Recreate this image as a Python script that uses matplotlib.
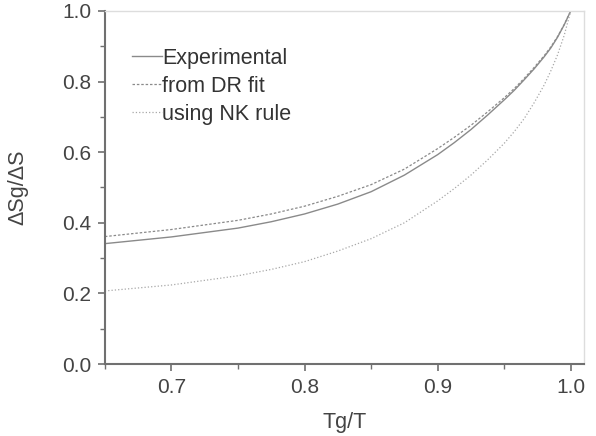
import numpy as np
import matplotlib.pyplot as plt
from matplotlib.ticker import MultipleLocator

plt.rcParams['font.family'] = ['Liberation Sans', 'DejaVu Sans']

# Tg/T values and entropy ratio curves
tg_t = [0.65, 0.70, 0.75, 0.775, 0.80, 0.825, 0.85, 0.875, 0.90, 0.9125, 0.925,
        0.9375, 0.95, 0.9575, 0.965, 0.9725, 0.98, 0.985, 0.99, 0.995, 1.00]
experimental = [0.341, 0.360, 0.385, 0.403, 0.425, 0.453, 0.488, 0.535, 0.593, 0.627, 0.664,
                0.705, 0.748, 0.775, 0.805, 0.836, 0.870, 0.895, 0.925, 0.960, 1.00]
dr_fit = [0.361, 0.381, 0.407, 0.425, 0.447, 0.475, 0.508, 0.552, 0.610, 0.642, 0.676,
          0.714, 0.754, 0.780, 0.809, 0.840, 0.873, 0.898, 0.927, 0.961, 1.00]
nk_rule = [0.207, 0.224, 0.250, 0.268, 0.290, 0.320, 0.355, 0.400, 0.462, 0.497, 0.535,
           0.578, 0.625, 0.658, 0.695, 0.740, 0.790, 0.830, 0.875, 0.930, 1.00]

fig = plt.figure(figsize=(5.96, 4.36), dpi=100)
ax = fig.add_axes([0.176, 0.165, 0.804, 0.810])

line_col = '#8a8a8a'
ax.plot(tg_t, experimental, '-', color=line_col, lw=1.0, label='Experimental')
ax.plot(tg_t, dr_fit, '--', color=line_col, lw=0.9, dashes=(2.0, 1.5), label='from DR fit')
ax.plot(tg_t, nk_rule, ':', color='#a8a8a8', lw=0.9, label='using NK rule')

ax.set_xlim(0.65, 1.01)
ax.set_ylim(0.0, 1.0)
ax.xaxis.set_major_locator(MultipleLocator(0.1))
ax.xaxis.set_minor_locator(MultipleLocator(0.05))
ax.yaxis.set_major_locator(MultipleLocator(0.2))
ax.yaxis.set_minor_locator(MultipleLocator(0.1))

for side in ['left', 'bottom']:
    ax.spines[side].set_color('#707070')
    ax.spines[side].set_linewidth(1.5)
for side in ['top', 'right']:
    ax.spines[side].set_color('#dddddd')
    ax.spines[side].set_linewidth(1.0)

ax.tick_params(which='major', direction='out', length=5, width=1.2, color='#707070',
               labelsize=15, labelcolor='#444444', pad=5)
ax.tick_params(which='minor', direction='out', length=3.5, width=1.0, color='#707070')
ax.tick_params(top=False, right=False, which='both')

ax.set_xlabel('Tg/T', fontsize=15.5, color='#444444', labelpad=11)
ax.set_ylabel('ΔSg/ΔS', fontsize=15.5, color='#444444', labelpad=24)

leg = ax.legend(loc='upper left', bbox_to_anchor=(0.038, 0.92), frameon=False,
                fontsize=15.5, handlelength=1.4, handletextpad=0.0,
                labelspacing=0.33, borderaxespad=0)
for t in leg.get_texts():
    t.set_color('#333333')

fig.savefig('out.png', dpi=100)
